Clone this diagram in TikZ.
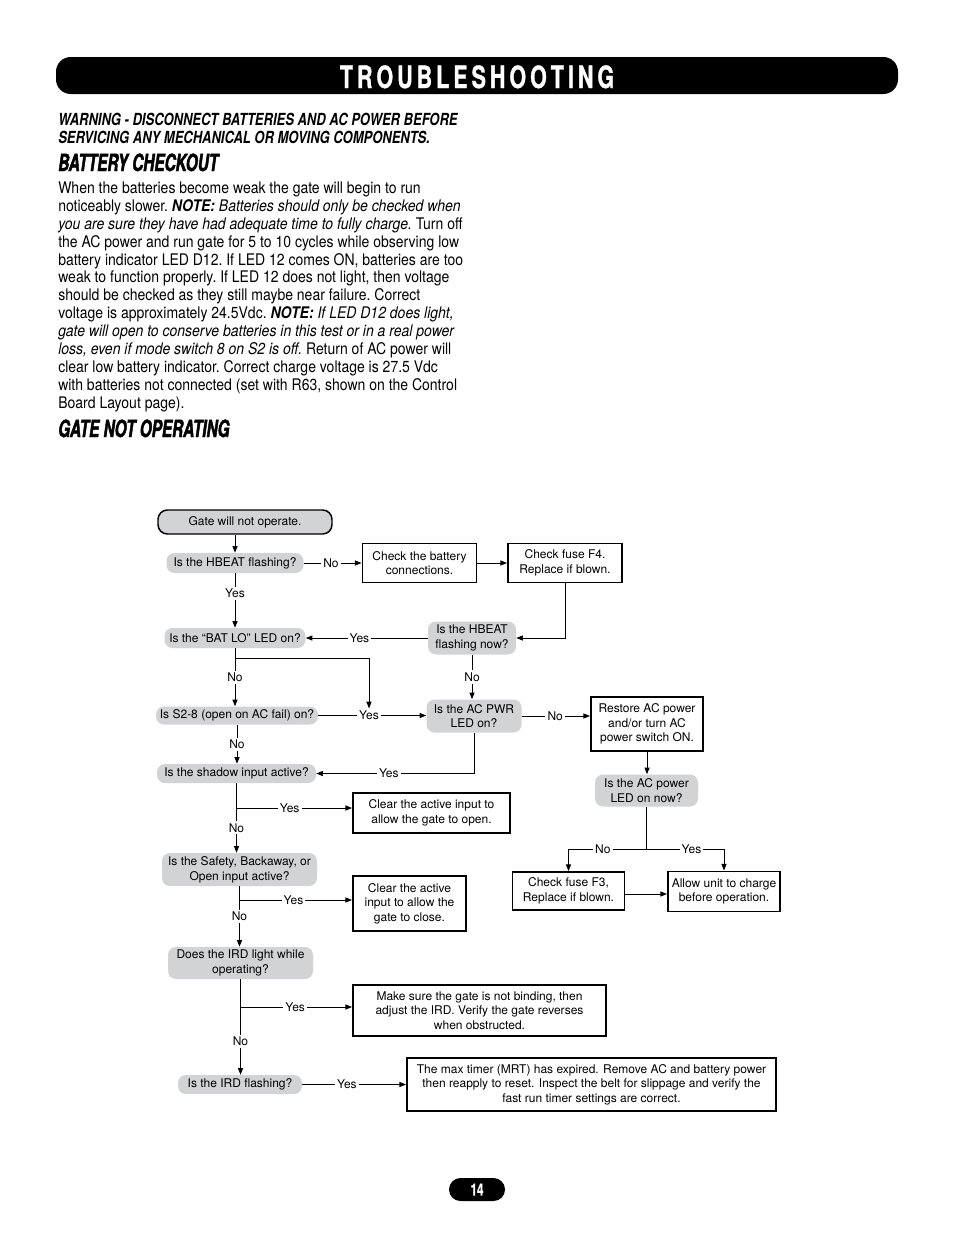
\documentclass[tikz,border=0pt]{standalone}
\usepackage{fontspec}
\setmainfont{TeX Gyre Heros}
\newfontfamily\bodyfont{TeX Gyre Heros}[FakeStretch=0.875]
\newfontfamily\warnfont{TeX Gyre Heros}[FakeStretch=0.78]
\newfontfamily\headfont{TeX Gyre Heros}[FakeStretch=0.65,FakeBold=1.8]
\newfontfamily\titlefont{TeX Gyre Heros}[FakeStretch=0.7,FakeBold=1]
\usetikzlibrary{arrows.meta}
\definecolor{askgray}{RGB}{209,211,212}
\newcommand{\chartfont}{\fontsize{9}{11}\selectfont}

\tikzset{
  ask/.style 2 args={fill=askgray, rounded corners=6pt, inner sep=0pt, align=center,
    minimum width=#1*0.75pt, minimum height=#2*0.75pt, font=\chartfont},
  act/.style 2 args={draw, line width=1.4pt, inner sep=0pt, align=center,
    minimum width=#1*0.75pt, minimum height=#2*0.75pt, font=\chartfont},
  lbl/.style={fill=white, inner sep=1.6pt, font=\chartfont},
  arr/.style={-{Triangle[length=5pt,width=3.8pt]}, line width=0.75pt},
  wire/.style={line width=0.75pt},
  titletext/.style={anchor=base, text=white, inner sep=0pt,
    font=\titlefont\bfseries\fontsize{23}{23}\selectfont},
  heading/.style={anchor=base west, inner sep=0pt,
    font=\headfont\bfseries\itshape\fontsize{17.7}{17.7}\selectfont},
  warnline/.style={anchor=base west, inner sep=0pt,
    font=\warnfont\bfseries\itshape\fontsize{12.5}{13.5}\selectfont},
  bodytext/.style={align=left, inner sep=0pt, font=\bodyfont\fontsize{12}{13.43}\selectfont\frenchspacing}
}

\begin{document}
\begin{tikzpicture}[x=0.75pt, y=-0.75pt]
    \path[fill=white] (0,0) rectangle (954,1235);

    % header
    \fill[black, rounded corners=11pt] (56,57) rectangle (898,94);
    \node[titletext] (title) at (477,88) {T\kern3pt R\kern3pt O\kern3pt U\kern3pt B\kern3pt L\kern3pt E\kern3pt S\kern3pt H\kern3pt O\kern3pt O\kern3pt T\kern3pt I\kern3pt N\kern3pt G};

    % text
    \node[warnline] (warn1) at (58,125) {WARNING - DISCONNECT BATTERIES AND AC POWER BEFORE};
    \node[warnline] (warn2) at (58,143) {SERVICING ANY MECHANICAL OR MOVING COMPONENTS.};
    \node[heading] (battery head) at (58,171) {BATTERY CHECKOUT};
    \node[bodytext, anchor=north west] (battery text) at (58,181.5) {%
        When the batteries become weak the gate will begin to run\\
        noticeably slower. \textbf{\textit{NOTE:}} \textit{Batteries should only be checked when}\\
        \textit{you are sure they have had adequate time to fully charge.} Turn off\\
        the AC power and run gate for 5 to 10 cycles while observing low\\
        battery indicator LED D12. If LED 12 comes ON, batteries are too\\
        weak to function properly. If LED 12 does not light, then voltage\\
        should be checked as they still maybe near failure. Correct\\
        voltage is approximately 24.5Vdc. \textbf{\textit{NOTE:}} \textit{If LED D12 does light,}\\
        \textit{gate will open to conserve batteries in this test or in a real power}\\
        \textit{loss, even if mode switch 8 on S2 is off.} Return of AC power will\\
        clear low battery indicator. Correct charge voltage is 27.5 Vdc\\
        with batteries not connected (set with R63, shown on the Control\\
        Board Layout page).};
    \node[heading] (gate head) at (58,437) {GATE NOT OPERATING};

    % flowchart
    \node[ask={174}{24}, draw, line width=1.1pt, rounded corners=7pt] (start) at (245,522) {Gate will not operate.};
    \node[ask={137}{20}] (hbeat) at (235,563) {Is the HBEAT flashing?};
    \node[act={114}{39}] (battery) at (419.5,563) {Check the battery\\connections.};
    \node[act={114}{39}] (fusefour) at (565,563) {Check fuse F4.\\Replace if blown.};
    \node[ask={88}{33}] (hbeatnow) at (472,638) {Is the HBEAT\\flashing now?};
    \node[ask={141}{20}] (batlo) at (235,638) {Is the “BAT LO” LED on?};
    \node[ask={162}{18}] (stwo) at (237,715.5) {Is S2-8 (open on AC fail) on?};
    \node[ask={95}{33}] (acpwr) at (474,716) {Is the AC PWR\\LED on?};
    \node[act={112}{54}] (restore) at (647,724) {Restore AC power\\and/or turn AC\\power switch ON.};
    \node[ask={103}{32}] (acnow) at (646.5,790.5) {Is the AC power\\LED on now?};
    \node[ask={159}{19}] (shadow) at (236.5,773.5) {Is the shadow input active?};
    \node[act={157}{40}] (clearopen) at (431.5,813) {Clear the active input to\\allow the gate to open.};
    \node[ask={155}{33}] (safety) at (239.5,869.5) {Is the Safety, Backaway, or\\Open input active?};
    \node[act={113}{55}] (clearclose) at (409.5,903.5) {Clear the active\\input to allow the\\gate to close.};
    \node[ask={145}{32}] (irdlight) at (240.5,963) {Does the IRD light while\\operating?};
    \node[act={253}{51}] (binding) at (479.5,1010.5) {Make sure the gate is not binding, then\\adjust the IRD. Verify the gate reverses\\when obstructed.};
    \node[ask={124}{19}] (irdflash) at (240,1084.5) {Is the IRD flashing?};
    \node[act={369}{53}] (maxtimer) at (591.5,1084.5) {The max timer (MRT) has expired. Remove AC and battery power\\then reapply to reset. Inspect the belt for slippage and verify the\\fast run timer settings are correct.};
    \node[act={112}{38}] (fusethree) at (568.5,891) {Check fuse F3,\\Replace if blown.};
    \node[act={112}{40}] (charge) at (724,891.5) {Allow unit to charge\\before operation.};

    \draw[arr] (hbeat.north |- start.south) -- (hbeat.north);
    \draw[arr] (hbeat.east) -- node[lbl, pos=0.47] (nobeat) {No} (battery.west);
    \draw[arr] (battery.east) -- (fusefour.west);
    \draw[arr] (fusefour.south) |- (hbeatnow.east);
    \draw[arr] (hbeatnow.west) -- node[lbl, pos=0.56] (yesnow) {Yes} (batlo.east);
    \draw[arr] (hbeat.south) -- node[lbl, pos=0.37] (yesbeat) {Yes} (hbeat.south |- batlo.north);
    \draw[arr] (batlo.south) -- node[lbl] (nolo) {No} (batlo.south |- stwo.north);
    \draw[arr] (stwo.east) -- node[lbl, pos=0.47] (yestwo) {Yes} (stwo.east -| acpwr.west);
    \coordinate (loyes) at (batlo.south |- 0,658);
    \draw[arr] (loyes) -| (yestwo.north);
    \draw[arr] (hbeatnow.south) -- node[lbl] (nonow) {No} (hbeatnow.south |- acpwr.north);
    \draw[arr] (acpwr.east) -- node[lbl, pos=0.49] (nopwr) {No} (acpwr.east -| restore.west);
    \draw[arr] (restore.south) -- (restore.south |- acnow.north);
    \draw[arr] (acpwr.south) |- node[lbl, pos=0.77] (yespwr) {Yes} (shadow.east);
    \draw[arr] (stwo.south) -- node[lbl] (notwo) {No} (stwo.south |- shadow.north);
    \draw[arr] (shadow.south) -- node[lbl, pos=0.64] (noshadow) {No} (shadow.south |- safety.north);
    \coordinate (shadowyes) at (shadow.south |- 0,808);
    \draw[arr] (shadowyes) -- node[lbl, pos=0.46] (yesshadow) {Yes} (shadowyes -| clearopen.west);
    \draw[arr] (safety.south) -- node[lbl, pos=0.5] (nosafety) {No} (safety.south |- irdlight.north);
    \coordinate (safetyyes) at (safety.south |- 0,900);
    \draw[arr] (safetyyes) -- node[lbl, pos=0.48] (yessafety) {Yes} (safetyyes -| clearclose.west);
    \draw[arr] (irdlight.south) -- node[lbl, pos=0.65] (nolight) {No} (irdlight.south |- irdflash.north);
    \coordinate (lightyes) at (irdlight.south |- 0,1007);
    \draw[arr] (lightyes) -- node[lbl, pos=0.49] (yeslight) {Yes} (lightyes -| binding.west);
    \draw[arr] (irdflash.east) -- node[lbl, pos=0.43] (yesflash) {Yes} (irdflash.east -| maxtimer.west);
    \coordinate (acsplit) at (acnow.south |- 0,849);
    \draw[wire] (acnow.south) -- (acsplit);
    \draw[arr] (acsplit) -| node[lbl, pos=0.28] (noacnow) {No} (fusethree.north);
    \draw[arr] (acsplit) -| node[lbl, pos=0.29] (yesacnow) {Yes} (charge.north);
    \draw[arr] (fusethree.east |- 0,894) -- (charge.west |- 0,894);

    % page number
    \node[fill=black, text=white, rounded corners=8.6pt, inner sep=0pt,
        minimum width=56*0.75pt, minimum height=23*0.75pt,
        font=\titlefont\bfseries\fontsize{12.5}{12.5}\selectfont] (page) at (477,1189.5) {14};
\end{tikzpicture}
\end{document}
